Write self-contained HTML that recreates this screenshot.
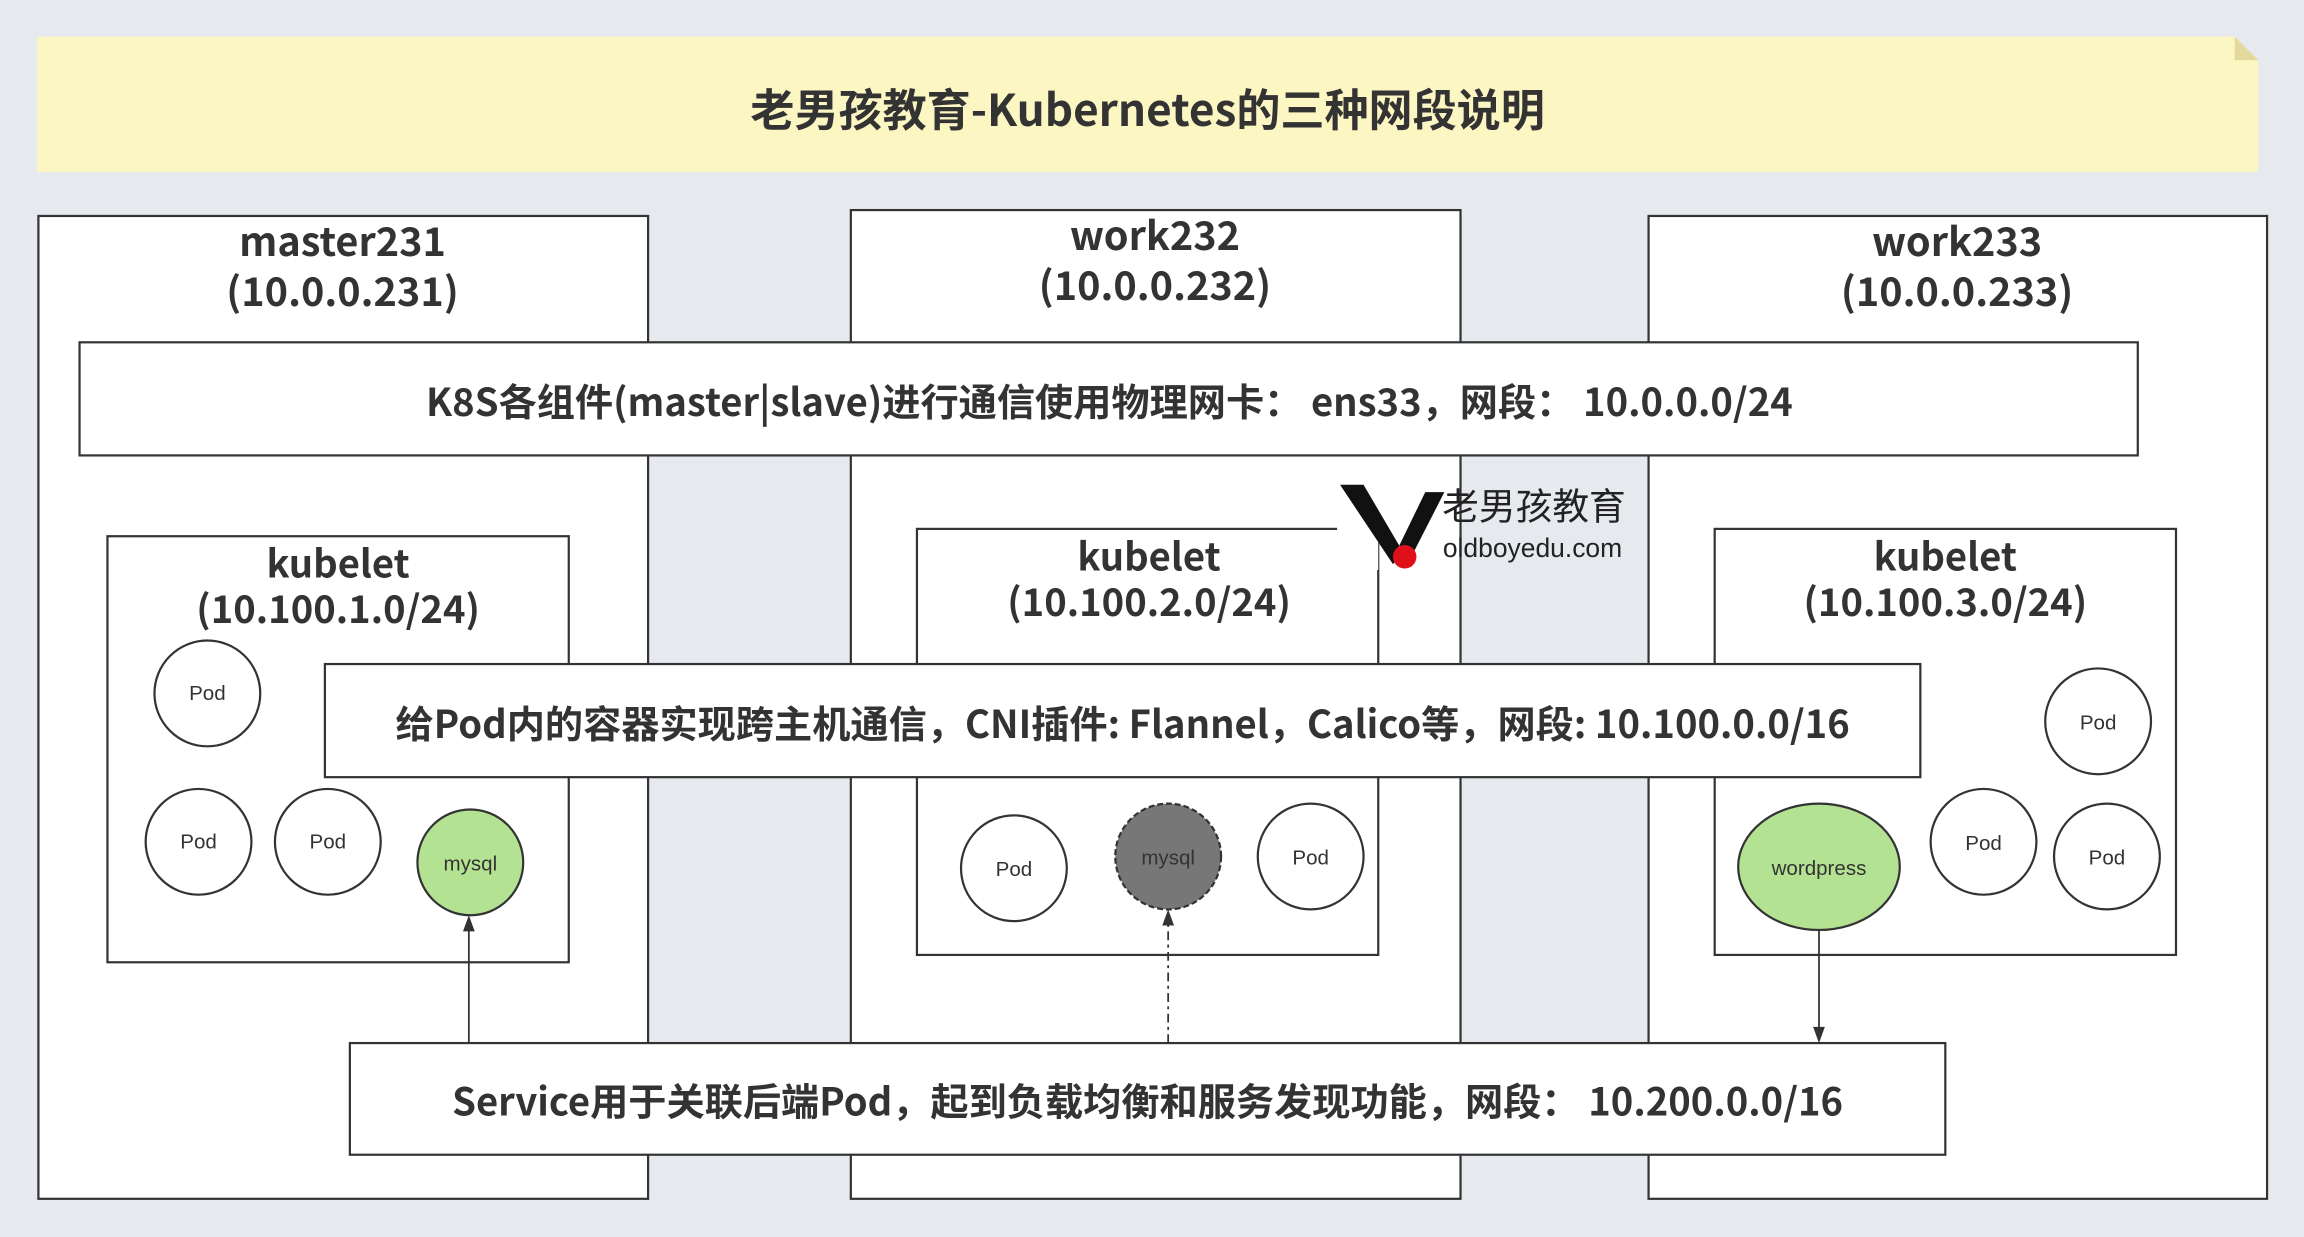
<!DOCTYPE html>
<html><head><meta charset="utf-8"><style>
html,body{margin:0;padding:0;width:2304px;height:1237px;overflow:hidden;background:#e6e9ed}
svg{display:block}
text{font-family:"Liberation Sans","Noto Sans CJK SC",sans-serif;fill:#333;text-anchor:middle;dominant-baseline:central}
.b{font-weight:bold;font-family:"Noto Sans CJK SC","Liberation Sans",sans-serif}
</style></head><body>
<svg width="2304" height="1237" viewBox="0 0 1568 842" xmlns="http://www.w3.org/2000/svg">
<rect x="0" y="0" width="1568" height="842" fill="#e6e9ed"/>
<path d="M25 25 H1521 L1537 41 V117 H25 Z" fill="#fcf6c3"/>
<path d="M1521 25 L1537 41 H1521 Z" fill="#e3d99d"/>
<text x="781" y="73" class="b" font-size="30">老男孩教育-Kubernetes的三种网段说明</text>
<g fill="#fff" stroke="#333" stroke-width="1.5">
<rect x="26" y="147" width="415" height="669"/>
<rect x="579" y="143" width="415" height="673"/>
<rect x="1122" y="147" width="421" height="669"/>
</g>
<g class="b" font-size="27">
<text x="233" y="163" class="b" font-size="27">master231</text>
<text x="233" y="197" class="b" font-size="27">(10.0.0.231)</text>
<text x="786" y="159" class="b" font-size="27">work232</text>
<text x="786" y="193" class="b" font-size="27">(10.0.0.232)</text>
<text x="1332" y="163" class="b" font-size="27">work233</text>
<text x="1332" y="197" class="b" font-size="27">(10.0.0.233)</text>
</g>
<rect x="54" y="233" width="1401" height="77" fill="#fff" stroke="#333" stroke-width="1.5"/>
<text x="755" y="272" class="b" font-size="26">K8S各组件(master|slave)进行通信使用物理网卡： ens33，网段： 10.0.0.0/24</text>
<g fill="#fff" stroke="#333" stroke-width="1.5">
<rect x="73" y="365" width="314" height="290"/>
<rect x="624" y="360" width="314" height="290"/>
<rect x="1167" y="360" width="314" height="290"/>
</g>
<text x="230" y="382" class="b" font-size="26">kubelet</text>
<text x="230" y="413" class="b" font-size="26">(10.100.1.0/24)</text>
<text x="782" y="377" class="b" font-size="26">kubelet</text>
<text x="782" y="408" class="b" font-size="26">(10.100.2.0/24)</text>
<text x="1324" y="377" class="b" font-size="26">kubelet</text>
<text x="1324" y="408" class="b" font-size="26">(10.100.3.0/24)</text>
<rect x="221" y="452" width="1086" height="77" fill="#fff" stroke="#333" stroke-width="1.5"/>
<text x="764" y="491" class="b" font-size="26">给Pod内的容器实现跨主机通信，CNI插件: Flannel，Calico等，网段: 10.100.0.0/16</text>
<g stroke="#333" stroke-width="1.5" fill="#fff">
<circle cx="141" cy="472" r="36"/>
<circle cx="135" cy="573" r="36"/>
<circle cx="223" cy="573" r="36"/>
<circle cx="320" cy="587" r="36" fill="#b3e293"/>
<circle cx="690" cy="591" r="36"/>
<circle cx="795" cy="583" r="36" fill="#777" stroke-dasharray="4 2"/>
<circle cx="892" cy="583" r="36"/>
<circle cx="1428" cy="491" r="36"/>
<ellipse cx="1238" cy="590" rx="55" ry="43" fill="#b3e293"/>
<circle cx="1350" cy="573" r="36"/>
<circle cx="1434" cy="583" r="36"/>
</g>
<g font-size="14">
<text x="141" y="472">Pod</text><text x="135" y="573">Pod</text><text x="223" y="573">Pod</text>
<text x="320" y="588">mysql</text>
<text x="690" y="592">Pod</text><text x="795" y="584">mysql</text><text x="892" y="584">Pod</text>
<text x="1428" y="492">Pod</text><text x="1238" y="591">wordpress</text>
<text x="1350" y="574">Pod</text><text x="1434" y="584">Pod</text>
</g>
<rect x="238" y="710" width="1086" height="76" fill="#fff" stroke="#333" stroke-width="1.5"/>
<text x="781" y="748" class="b" font-size="26">Service用于关联后端Pod，起到负载均衡和服务发现功能，网段： 10.200.0.0/16</text>
<g stroke="#333" stroke-width="1.2" fill="none">
<line x1="319" y1="710" x2="319" y2="632"/>
<line x1="795" y1="710" x2="795" y2="628" stroke-dasharray="6 3 2 3"/>
<line x1="1238" y1="633" x2="1238" y2="700"/>
</g>
<g fill="#333">
<path d="M319 623 L315 634 L323 634 Z"/>
<path d="M795 619 L791 630 L799 630 Z"/>
<path d="M1238 710 L1234 699 L1242 699 Z"/>
</g>
<rect x="910" y="326" width="28" height="62" fill="#fff"/>
<path d="M912 330 L928 330 L955 376 L948 384 Z M983 335 L970 335 L952 372 L960 380 Z" fill="#111"/>
<circle cx="956" cy="379" r="8" fill="#e0101a"/>
<text x="1044" y="345" font-size="25" font-family="'Noto Sans CJK SC',sans-serif" style="fill:#222">老男孩教育</text>
<text x="1043" y="373" font-size="18" style="fill:#222">oldboyedu.com</text>
</svg>
</body></html>
